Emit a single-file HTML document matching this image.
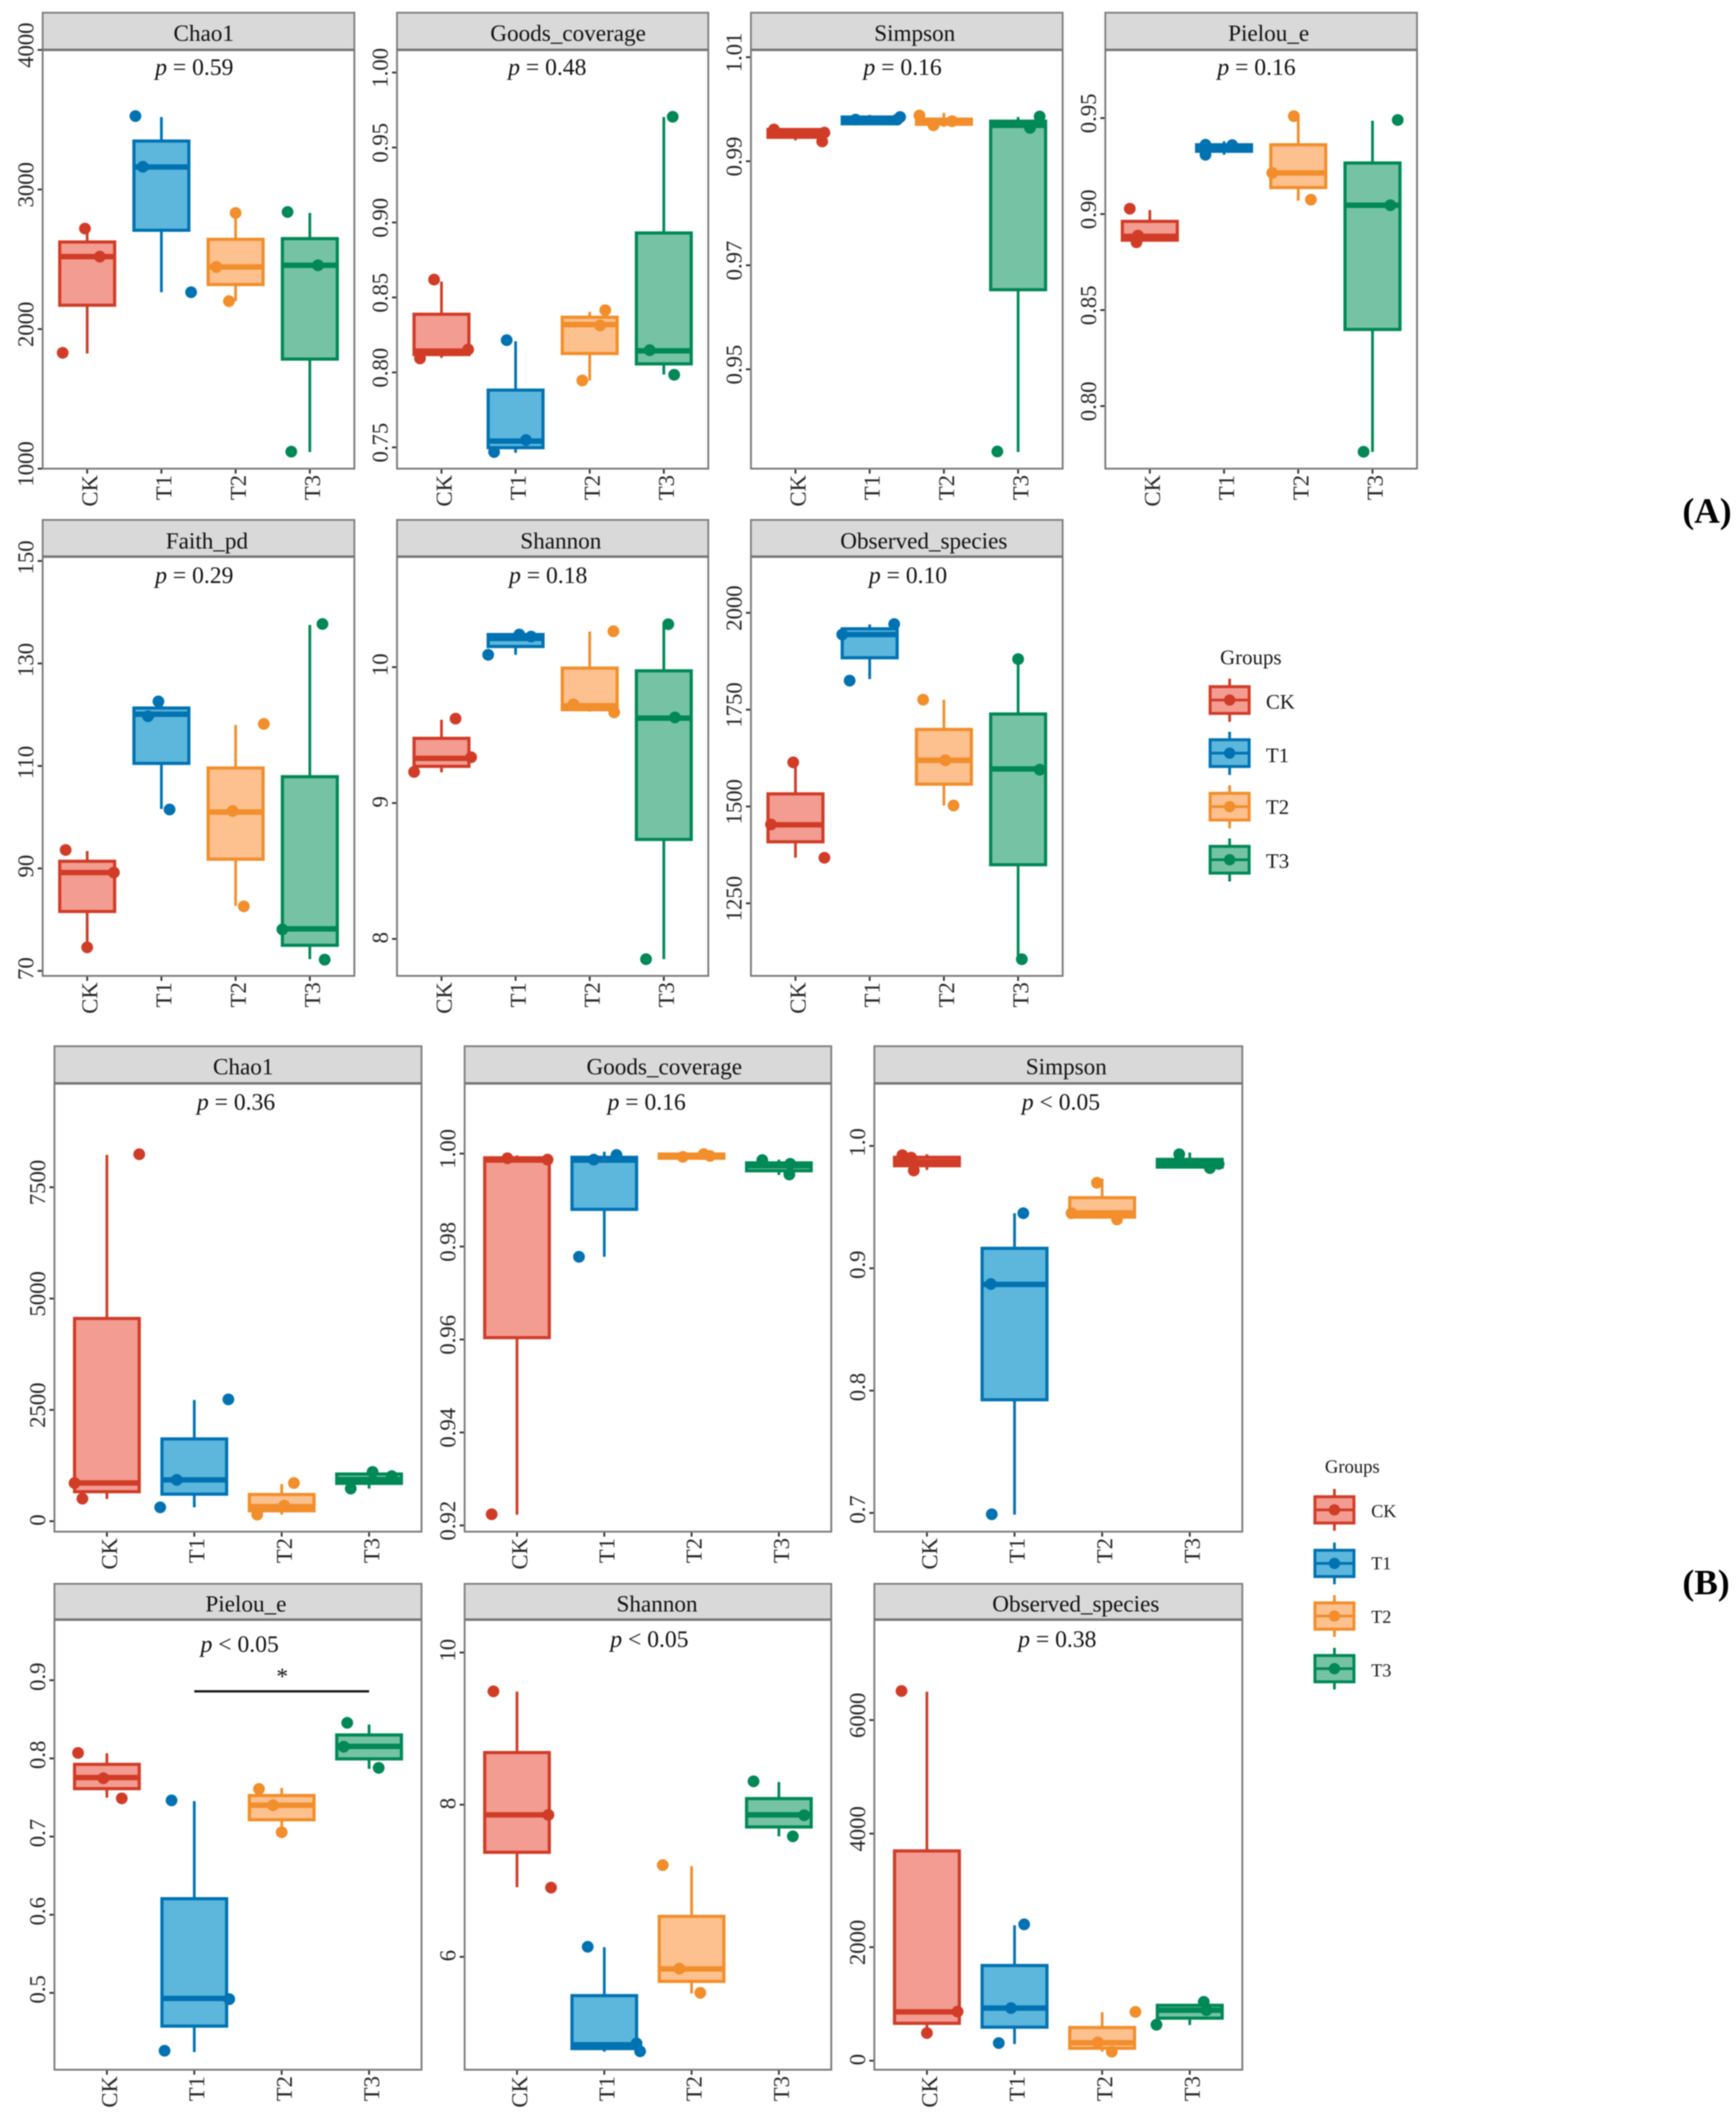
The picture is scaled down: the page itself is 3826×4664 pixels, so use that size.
<!DOCTYPE html>
<html lang="en">
<head>
<meta charset="utf-8">
<title>Alpha diversity boxplots</title>
<style>
html,body{margin:0;padding:0;background:#fff;}
svg{display:block;font-family:"Liberation Serif",serif;filter:blur(1.2px);}
.strip{fill:#d9d9d9;stroke:#808080;stroke-width:4;}
.strip-line{stroke:#333;stroke-width:5;}
.bg{fill:#fff;stroke:none;}
.frame{fill:none;stroke:#7a7a7a;stroke-width:4;}
.title{font-size:51px;fill:#111;text-anchor:middle;}
.pv{font-size:52px;fill:#111;}
.pv tspan{font-style:italic;}
.tick-label{font-size:50px;fill:#262626;}
.legend-title,.legend-label{fill:#1a1a1a;}
.panel-tag{font-size:78px;font-weight:bold;fill:#000;}
</style>
</head>
<body>
<svg id="figure" xmlns="http://www.w3.org/2000/svg" width="3826" height="4664" viewBox="0 0 3826 4664">
<rect x="0" y="0" width="3826" height="4664" fill="#fff"/>

<g id="a1">
<rect class="bg" x="94" y="110" width="687" height="923"/>
<rect class="strip" x="94" y="28" width="687" height="82"/>
<line class="strip-line" x1="94" x2="781" y1="110" y2="110"/>
<text class="title" x="449" y="90">Chao1</text>
<text class="pv" x="342" y="165"><tspan>p</tspan> = 0.59</text>
</g>
<g id="a2">
<rect class="bg" x="875" y="110" width="686" height="923"/>
<rect class="strip" x="875" y="28" width="686" height="82"/>
<line class="strip-line" x1="875" x2="1561" y1="110" y2="110"/>
<text class="title" x="1252" y="90">Goods_coverage</text>
<text class="pv" x="1120" y="165"><tspan>p</tspan> = 0.48</text>
</g>
<g id="a3">
<rect class="bg" x="1655" y="110" width="687" height="923"/>
<rect class="strip" x="1655" y="28" width="687" height="82"/>
<line class="strip-line" x1="1655" x2="2342" y1="110" y2="110"/>
<text class="title" x="2016" y="90">Simpson</text>
<text class="pv" x="1903" y="165"><tspan>p</tspan> = 0.16</text>
</g>
<g id="a4">
<rect class="bg" x="2436" y="110" width="687" height="923"/>
<rect class="strip" x="2436" y="28" width="687" height="82"/>
<line class="strip-line" x1="2436" x2="3123" y1="110" y2="110"/>
<text class="title" x="2796" y="90">Pielou_e</text>
<text class="pv" x="2683" y="165"><tspan>p</tspan> = 0.16</text>
</g>
<g id="a5">
<rect class="bg" x="94" y="1227" width="687" height="924"/>
<rect class="strip" x="94" y="1146" width="687" height="81"/>
<line class="strip-line" x1="94" x2="781" y1="1227" y2="1227"/>
<text class="title" x="456" y="1209">Faith_pd</text>
<text class="pv" x="342" y="1285"><tspan>p</tspan> = 0.29</text>
</g>
<g id="a6">
<rect class="bg" x="875" y="1227" width="686" height="924"/>
<rect class="strip" x="875" y="1146" width="686" height="81"/>
<line class="strip-line" x1="875" x2="1561" y1="1227" y2="1227"/>
<text class="title" x="1236" y="1209">Shannon</text>
<text class="pv" x="1122" y="1285"><tspan>p</tspan> = 0.18</text>
</g>
<g id="a7">
<rect class="bg" x="1655" y="1227" width="687" height="924"/>
<rect class="strip" x="1655" y="1146" width="687" height="81"/>
<line class="strip-line" x1="1655" x2="2342" y1="1227" y2="1227"/>
<text class="title" x="2036" y="1209">Observed_species</text>
<text class="pv" x="1915" y="1285"><tspan>p</tspan> = 0.10</text>
</g>

<g id="b1">
<rect class="bg" x="120" y="2388" width="809" height="988"/>
<rect class="strip" x="120" y="2306" width="809" height="82"/>
<line class="strip-line" x1="120" x2="929" y1="2388" y2="2388"/>
<text class="title" x="536" y="2368">Chao1</text>
<text class="pv" x="434" y="2446"><tspan>p</tspan> = 0.36</text>
</g>
<g id="b2">
<rect class="bg" x="1024" y="2388" width="808" height="988"/>
<rect class="strip" x="1024" y="2306" width="808" height="82"/>
<line class="strip-line" x1="1024" x2="1832" y1="2388" y2="2388"/>
<text class="title" x="1464" y="2368">Goods_coverage</text>
<text class="pv" x="1339" y="2446"><tspan>p</tspan> = 0.16</text>
</g>
<g id="b3">
<rect class="bg" x="1927" y="2388" width="811" height="988"/>
<rect class="strip" x="1927" y="2306" width="811" height="82"/>
<line class="strip-line" x1="1927" x2="2738" y1="2388" y2="2388"/>
<text class="title" x="2350" y="2368">Simpson</text>
<text class="pv" x="2252" y="2446"><tspan>p</tspan> &lt; 0.05</text>
</g>
<g id="b4">
<rect class="bg" x="120" y="3570" width="809" height="992"/>
<rect class="strip" x="120" y="3491" width="809" height="79"/>
<line class="strip-line" x1="120" x2="929" y1="3570" y2="3570"/>
<text class="title" x="542" y="3552">Pielou_e</text>
<text class="pv" x="442" y="3641"><tspan>p</tspan> &lt; 0.05</text>
<text x="622" y="3712" font-size="52" text-anchor="middle" fill="#111">*</text>
</g>
<g id="b5">
<rect class="bg" x="1024" y="3570" width="808" height="992"/>
<rect class="strip" x="1024" y="3491" width="808" height="79"/>
<line class="strip-line" x1="1024" x2="1832" y1="3570" y2="3570"/>
<text class="title" x="1448" y="3552">Shannon</text>
<text class="pv" x="1345" y="3630"><tspan>p</tspan> &lt; 0.05</text>
</g>
<g id="b6">
<rect class="bg" x="1927" y="3570" width="811" height="992"/>
<rect class="strip" x="1927" y="3491" width="811" height="79"/>
<line class="strip-line" x1="1927" x2="2738" y1="3570" y2="3570"/>
<text class="title" x="2371" y="3552">Observed_species</text>
<text class="pv" x="2244" y="3630"><tspan>p</tspan> = 0.38</text>
</g>

<g>
<text class="legend-title" x="2689" y="1464" font-size="46">Groups</text>
<g transform="translate(2710,1543)">
<line y1="-47" y2="48" stroke="#D13C27" stroke-width="6"/>
<rect x="-43" y="-29.5" width="86" height="59" fill="#F29C92" stroke="#D13C27" stroke-width="6.5"/>
<line x1="-43" x2="43" stroke="#D13C27" stroke-width="6"/>
<circle r="12.5" fill="#D13C27"/>
</g>
<text class="legend-label" x="2790" y="1562" font-size="46">CK</text>
<g transform="translate(2710,1660)">
<line y1="-47" y2="48" stroke="#0072B2" stroke-width="6"/>
<rect x="-43" y="-29.5" width="86" height="59" fill="#5DB7DC" stroke="#0072B2" stroke-width="6.5"/>
<line x1="-43" x2="43" stroke="#0072B2" stroke-width="6"/>
<circle r="12.5" fill="#0072B2"/>
</g>
<text class="legend-label" x="2790" y="1680" font-size="46">T1</text>
<g transform="translate(2710,1778)">
<line y1="-47" y2="48" stroke="#F28E2B" stroke-width="6"/>
<rect x="-43" y="-29.5" width="86" height="59" fill="#FDC08F" stroke="#F28E2B" stroke-width="6.5"/>
<line x1="-43" x2="43" stroke="#F28E2B" stroke-width="6"/>
<circle r="12.5" fill="#F28E2B"/>
</g>
<text class="legend-label" x="2790" y="1794" font-size="46">T2</text>
<g transform="translate(2710,1895)">
<line y1="-47" y2="48" stroke="#008856" stroke-width="6"/>
<rect x="-43" y="-29.5" width="86" height="59" fill="#75C3A4" stroke="#008856" stroke-width="6.5"/>
<line x1="-43" x2="43" stroke="#008856" stroke-width="6"/>
<circle r="12.5" fill="#008856"/>
</g>
<text class="legend-label" x="2790" y="1913" font-size="46">T3</text>
</g>

<g>
<text class="legend-title" x="2920" y="3246" font-size="41">Groups</text>
<g transform="translate(2941,3328)">
<line y1="-46" y2="46" stroke="#D13C27" stroke-width="6"/>
<rect x="-43" y="-29" width="86" height="58" fill="#F29C92" stroke="#D13C27" stroke-width="6.5"/>
<line x1="-43" x2="43" stroke="#D13C27" stroke-width="6"/>
<circle r="12.5" fill="#D13C27"/>
</g>
<text class="legend-label" x="3022" y="3344" font-size="40">CK</text>
<g transform="translate(2941,3446)">
<line y1="-46" y2="46" stroke="#0072B2" stroke-width="6"/>
<rect x="-43" y="-29" width="86" height="58" fill="#5DB7DC" stroke="#0072B2" stroke-width="6.5"/>
<line x1="-43" x2="43" stroke="#0072B2" stroke-width="6"/>
<circle r="12.5" fill="#0072B2"/>
</g>
<text class="legend-label" x="3022" y="3459" font-size="40">T1</text>
<g transform="translate(2941,3562)">
<line y1="-46" y2="46" stroke="#F28E2B" stroke-width="6"/>
<rect x="-43" y="-29" width="86" height="58" fill="#FDC08F" stroke="#F28E2B" stroke-width="6.5"/>
<line x1="-43" x2="43" stroke="#F28E2B" stroke-width="6"/>
<circle r="12.5" fill="#F28E2B"/>
</g>
<text class="legend-label" x="3022" y="3577" font-size="40">T2</text>
<g transform="translate(2941,3678)">
<line y1="-46" y2="46" stroke="#008856" stroke-width="6"/>
<rect x="-43" y="-29" width="86" height="58" fill="#75C3A4" stroke="#008856" stroke-width="6.5"/>
<line x1="-43" x2="43" stroke="#008856" stroke-width="6"/>
<circle r="12.5" fill="#008856"/>
</g>
<text class="legend-label" x="3022" y="3695" font-size="40">T3</text>
</g>

<text class="panel-tag" x="3708" y="1152">(A)</text>
<text class="panel-tag" x="3708" y="3514">(B)</text>
</svg>

<script>
// Shared categories and colours
const categories = ["CK", "T1", "T2", "T3"];
const strokeColors = ["#D13C27", "#0072B2", "#F28E2B", "#008856"];
const fillColors = ["#F29C92", "#5DB7DC", "#FDC08F", "#75C3A4"];

// Each box row: [whisker low, q1, median, q3, whisker high]
// Each point row holds three sample values; jitter rows hold their offsets in category units.

// A – Chao1
const a1Domain = [1000, 4000];
const a1Ticks = ["1000", "2000", "3000", "4000"];
const a1Boxes = [[1825, 2171, 2519, 2624, 2712], [2264, 2708, 3161, 3347, 3519], [2200, 2319, 2445, 2643, 2832], [1119, 1785, 2457, 2648, 2832]];
const a1Points = [[1830, 2720, 2519], [3526, 3163, 2264], [2832, 2445, 2200], [2839, 2457, 1122]];
const a1Jitter = [[-0.33, -0.03, 0.17], [-0.35, -0.25, 0.40], [0, -0.26, -0.09], [-0.30, 0.11, -0.25]];

// A – Goods_coverage
const a2Domain = [0.7358, 1.0151];
const a2Ticks = ["0.75", "0.80", "0.85", "0.90", "0.95", "1.00"];
const a2Boxes = [[0.8097, 0.8119, 0.8142, 0.8388, 0.8606], [0.7464, 0.7498, 0.7542, 0.7882, 0.8208], [0.7946, 0.8126, 0.8319, 0.8368, 0.8404], [0.7986, 0.8057, 0.8144, 0.8930, 0.9703]];
const a2Points = [[0.8619, 0.8153, 0.8093], [0.8215, 0.7549, 0.7469], [0.8415, 0.8313, 0.7946], [0.9705, 0.8148, 0.7984]];
const a2Jitter = [[-0.10, 0.36, -0.29], [-0.12, 0.14, -0.29], [0.21, 0.14, -0.10], [0.12, -0.19, 0.14]];

// A – Simpson
const a3Domain = [0.9309, 1.0114];
const a3Ticks = ["0.95", "0.97", "0.99", "1.01"];
const a3Boxes = [[0.9940, 0.9946, 0.9953, 0.9961, 0.9964], [0.9970, 0.9972, 0.9979, 0.9985, 0.9989], [0.9966, 0.9971, 0.9978, 0.9981, 0.9993], [0.9341, 0.9653, 0.9969, 0.9977, 0.9985]];
const a3Points = [[0.9961, 0.9955, 0.9938], [0.9980, 0.9980, 0.9985], [0.9988, 0.9969, 0.9977], [0.9986, 0.9964, 0.9342]];
const a3Jitter = [[-0.29, 0.39, 0.36], [-0.19, 0.37, 0.41], [-0.33, -0.14, 0.11], [0.29, 0.16, -0.28]];

// A – Pielou_e
const a4Domain = [0.7674, 0.9855];
const a4Ticks = ["0.80", "0.85", "0.90", "0.95"];
const a4Boxes = [[0.8857, 0.8864, 0.8884, 0.8962, 0.9021], [0.9309, 0.9327, 0.9344, 0.9361, 0.9379], [0.9070, 0.9138, 0.9214, 0.9361, 0.9505], [0.7761, 0.8399, 0.9046, 0.9266, 0.9486]];
const a4Points = [[0.9028, 0.8888, 0.8853], [0.9361, 0.9309, 0.9359], [0.9510, 0.9214, 0.9075], [0.9490, 0.9046, 0.7762]];
const a4Jitter = [[-0.27, -0.16, -0.18], [-0.25, -0.25, 0.11], [-0.06, -0.35, 0.17], [0.34, 0.24, -0.12]];

// A – Faith_pd
const a5Domain = [69.03, 150.84];
const a5Ticks = ["70", "90", "110", "130", "150"];
const a5Boxes = [[74.5, 81.6, 89.2, 91.4, 93.4], [101.6, 110.5, 120.1, 121.3, 122.6], [82.7, 91.8, 101.0, 109.6, 118.0], [72.3, 75.0, 78.2, 107.9, 137.5]];
const a5Points = [[93.6, 89.2, 74.6], [122.6, 119.7, 101.5], [118.2, 101.2, 82.6], [137.7, 78.1, 72.2]];
const a5Jitter = [[-0.29, 0.36, 0], [-0.04, -0.18, 0.11], [0.38, -0.04, 0.11], [0.17, -0.37, 0.20]];

// A – Shannon
const a6Domain = [7.728, 10.813];
const a6Ticks = ["8", "9", "10"];
const a6Boxes = [[9.226, 9.270, 9.329, 9.476, 9.613], [10.091, 10.152, 10.211, 10.240, 10.260], [9.672, 9.687, 9.716, 9.993, 10.262], [7.851, 8.732, 9.625, 9.973, 10.311]];
const a6Points = [[9.621, 9.337, 9.229], [10.240, 10.225, 10.091], [10.264, 9.726, 9.667], [10.316, 9.630, 7.851]];
const a6Jitter = [[0.19, 0.40, -0.37], [0.05, 0.21, -0.37], [0.32, -0.22, 0.33], [0.06, 0.15, -0.24]];

// A – Observed_species
const a7Domain = [1062.7, 2145];
const a7Ticks = ["1250", "1500", "1750", "2000"];
const a7Boxes = [[1367.7, 1408.9, 1452.7, 1532.6, 1612.5], [1829, 1884, 1944, 1958.8, 1970], [1502.6, 1557.6, 1619.4, 1699, 1775.8], [1105.7, 1349.7, 1597, 1738.8, 1880.6]];
const a7Points = [[1614, 1453.6, 1367.7], [1971, 1944, 1825], [1775.8, 1619.4, 1502.6], [1880.6, 1595, 1105.7]];
const a7Jitter = [[-0.03, -0.33, 0.39], [0.33, -0.37, -0.27], [-0.28, 0.02, 0.13], [0, 0.29, 0.05]];

// B – Chao1
const b1Domain = [-234, 9831];
const b1Ticks = ["0", "2500", "5000", "7500"];
const b1Boxes = [[499, 663, 858, 4553, 8225], [312, 608, 928, 1848, 2721], [148, 234, 327, 600, 834], [733, 850, 936, 1060, 1185]];
const b1Points = [[8240, 858, 507], [2736, 928, 312], [858, 351, 148], [1107, 1013, 733]];
const b1Jitter = [[0.37, -0.37, -0.28], [0.39, -0.20, -0.39], [0.14, 0.03, -0.28], [0.04, 0.26, -0.21]];

// B – Goods_coverage
const b2Domain = [0.91866, 1.0151];
const b2Ticks = ["0.92", "0.94", "0.96", "0.98", "1.00"];
const b2Boxes = [[0.9223, 0.9604, 0.9986, 0.9991, 0.9996], [0.9778, 0.9880, 0.9986, 0.9992, 1.0004], [0.9988, 0.9990, 0.9995, 0.9999, 1.0001], [0.9954, 0.9963, 0.9974, 0.9980, 0.9987]];
const b2Points = [[0.9990, 0.9987, 0.9224], [0.9987, 0.9997, 0.9778], [0.9993, 0.9999, 0.9995], [0.9986, 0.9978, 0.9955]];
const b2Jitter = [[-0.11, 0.35, -0.29], [-0.12, 0.14, -0.29], [-0.10, 0.14, 0.21], [-0.19, 0.13, 0.12]];

// B – Simpson
const b3Domain = [0.6847, 1.0511];
const b3Ticks = ["0.7", "0.8", "0.9", "1.0"];
const b3Boxes = [[0.9804, 0.9838, 0.9870, 0.9907, 0.9932], [0.6986, 0.7925, 0.8868, 0.9163, 0.9450], [0.9407, 0.9418, 0.9452, 0.9577, 0.9733], [0.9819, 0.9827, 0.9861, 0.9890, 0.9946]];
const b3Points = [[0.9924, 0.9904, 0.9799], [0.9450, 0.8871, 0.6989], [0.9699, 0.9450, 0.9399], [0.9932, 0.9853, 0.9819]];
const b3Jitter = [[-0.28, -0.18, -0.15], [0.10, -0.27, -0.26], [-0.06, -0.35, 0.17], [-0.12, 0.33, 0.23]];

// B – Pielou_e
const b4Domain = [0.4017, 0.9775];
const b4Ticks = ["0.5", "0.6", "0.7", "0.8", "0.9"];
const b4Boxes = [[0.7498, 0.7613, 0.7755, 0.7924, 0.8065], [0.4243, 0.4575, 0.4929, 0.6205, 0.7454], [0.7055, 0.7215, 0.7401, 0.7525, 0.7622], [0.7866, 0.7994, 0.8154, 0.8300, 0.8433]];
const b4Points = [[0.8070, 0.7746, 0.7489], [0.7463, 0.4920, 0.4260], [0.7609, 0.7401, 0.7055], [0.8455, 0.8150, 0.7879]];
const b4Jitter = [[-0.33, -0.04, 0.17], [-0.26, 0.40, -0.34], [-0.26, -0.10, 0], [-0.25, -0.29, 0.11]];
const b4BracketValue = [0.8858];
const b4BracketGroups = ["T1", "T3"];

// B – Shannon
const b5Domain = [4.516, 10.432];
const b5Ticks = ["6", "8", "10"];
const b5Boxes = [[6.915, 7.374, 7.866, 8.685, 9.486], [4.753, 4.794, 4.844, 5.490, 6.127], [5.518, 5.677, 5.841, 6.532, 7.192], [7.584, 7.707, 7.866, 8.080, 8.298]];
const b5Points = [[9.490, 7.866, 6.910], [6.132, 4.862, 4.758], [7.206, 5.845, 5.527], [8.307, 7.861, 7.584]];
const b5Jitter = [[-0.27, 0.36, 0.39], [-0.19, 0.37, 0.41], [-0.33, -0.14, 0.10], [-0.29, 0.29, 0.16]];

// B – Observed_species
const b6Domain = [-158.5, 7768];
const b6Ticks = ["0", "2000", "4000", "6000"];
const b6Boxes = [[476, 659, 860, 3695, 6500], [293, 591, 927, 1677, 2384], [159, 220, 317, 585, 854], [628, 750, 890, 976, 994]];
const b6Points = [[6512, 866, 488], [2402, 927, 311], [860, 323, 159], [1037, 890, 634]];
const b6Jitter = [[-0.29, 0.35, 0], [0.11, -0.04, -0.18], [0.38, -0.05, 0.11], [0.16, 0.19, -0.38]];

const SVGNS = "http://www.w3.org/2000/svg";

function make(tag, parent, attrs) {
  const el = document.createElementNS(SVGNS, tag);
  for (const k in attrs) el.setAttribute(k, attrs[k]);
  parent.appendChild(el);
  return el;
}

function frameOf(g) {
  const r = g.querySelector(".bg");
  return {
    x: Number(r.getAttribute("x")),
    y: Number(r.getAttribute("y")),
    w: Number(r.getAttribute("width")),
    h: Number(r.getAttribute("height"))
  };
}

function xAxisScale(f) {
  return (groupIndex, offset) => f.x + (0.6 + groupIndex + offset) * f.w / 4.2;
}

function yAxisScale(f, domain) {
  return (value) => f.y + f.h - (value - domain[0]) / (domain[1] - domain[0]) * f.h;
}

function drawPanel(id, domain, ticks, boxes, points, jitter) {
  const g = document.getElementById(id);
  const f = frameOf(g);
  const sx = xAxisScale(f);
  const sy = yAxisScale(f, domain);
  const boxWidth = 0.74 * f.w / 4.2;
  const bottom = f.y + f.h;

  categories.forEach((cat, i) => {
    const cx = sx(i, 0);
    const stats = boxes[i];
    const color = strokeColors[i];
    const grp = make("g", g, {});
    
    

    const whiskerHigh = make("line", grp, {x1: cx, x2: cx, y1: sy(stats[3]), y2: sy(stats[4]), stroke: color, "stroke-width": 6});
    
    

    const whiskerLow = make("line", grp, {x1: cx, x2: cx, y1: sy(stats[1]), y2: sy(stats[0]), stroke: color, "stroke-width": 6});
    
    

    const top = sy(stats[3]);
    const box = make("rect", grp, {x: cx - boxWidth / 2, y: top, width: boxWidth, height: Math.abs(sy(stats[1]) - top), fill: fillColors[i], stroke: color, "stroke-width": 7});
    
    

    const median = make("line", grp, {x1: cx - boxWidth / 2 - 3, x2: cx + boxWidth / 2 + 3, y1: sy(stats[2]), y2: sy(stats[2]), stroke: color, "stroke-width": 12});
    
    

    points[i].forEach((value, j) => {
      const pt = make("circle", grp, {cx: sx(i, jitter[i][j]), cy: sy(value), r: 13, fill: color});
      
      
    });

    const tick = make("line", g, {x1: cx, x2: cx, y1: bottom, y2: bottom + 11, stroke: "#333", "stroke-width": 4});
    
    

    const lx = cx + 22;
    const ly = bottom + 14;
    const label = make("text", g, {class: "tick-label", transform: "translate(" + lx + "," + ly + ") rotate(-90)", "text-anchor": "end"});
    label.textContent = cat;
    
    
  });

  ticks.forEach((t) => {
    const ty = sy(Number(t));
    const tick = make("line", g, {x1: f.x - 11, x2: f.x, y1: ty, y2: ty, stroke: "#333", "stroke-width": 4});
    
    

    const lx = f.x - 21;
    const ly = ty - t.length * 2.6;
    const label = make("text", g, {class: "tick-label", transform: "translate(" + lx + "," + ly + ") rotate(-90)", "text-anchor": "middle"});
    label.textContent = t;
    
    
  });

  const border = make("rect", g, {class: "frame", x: f.x, y: f.y, width: f.w, height: f.h});
  
  
}

function drawBracket(id, domain, groups, value) {
  const g = document.getElementById(id);
  const f = frameOf(g);
  const sx = xAxisScale(f);
  const sy = yAxisScale(f, domain);
  const y = sy(value);
  const line = make("line", g, {x1: sx(categories.indexOf(groups[0]), 0), x2: sx(categories.indexOf(groups[1]), 0), y1: y, y2: y, stroke: "#111", "stroke-width": 5});
  
  
}

drawPanel("a1", a1Domain, a1Ticks, a1Boxes, a1Points, a1Jitter);
drawPanel("a2", a2Domain, a2Ticks, a2Boxes, a2Points, a2Jitter);
drawPanel("a3", a3Domain, a3Ticks, a3Boxes, a3Points, a3Jitter);
drawPanel("a4", a4Domain, a4Ticks, a4Boxes, a4Points, a4Jitter);
drawPanel("a5", a5Domain, a5Ticks, a5Boxes, a5Points, a5Jitter);
drawPanel("a6", a6Domain, a6Ticks, a6Boxes, a6Points, a6Jitter);
drawPanel("a7", a7Domain, a7Ticks, a7Boxes, a7Points, a7Jitter);
drawPanel("b1", b1Domain, b1Ticks, b1Boxes, b1Points, b1Jitter);
drawPanel("b2", b2Domain, b2Ticks, b2Boxes, b2Points, b2Jitter);
drawPanel("b3", b3Domain, b3Ticks, b3Boxes, b3Points, b3Jitter);
drawPanel("b4", b4Domain, b4Ticks, b4Boxes, b4Points, b4Jitter);
drawPanel("b5", b5Domain, b5Ticks, b5Boxes, b5Points, b5Jitter);
drawPanel("b6", b6Domain, b6Ticks, b6Boxes, b6Points, b6Jitter);
drawBracket("b4", b4Domain, b4BracketGroups, b4BracketValue[0]);
</script>
</body>
</html>
